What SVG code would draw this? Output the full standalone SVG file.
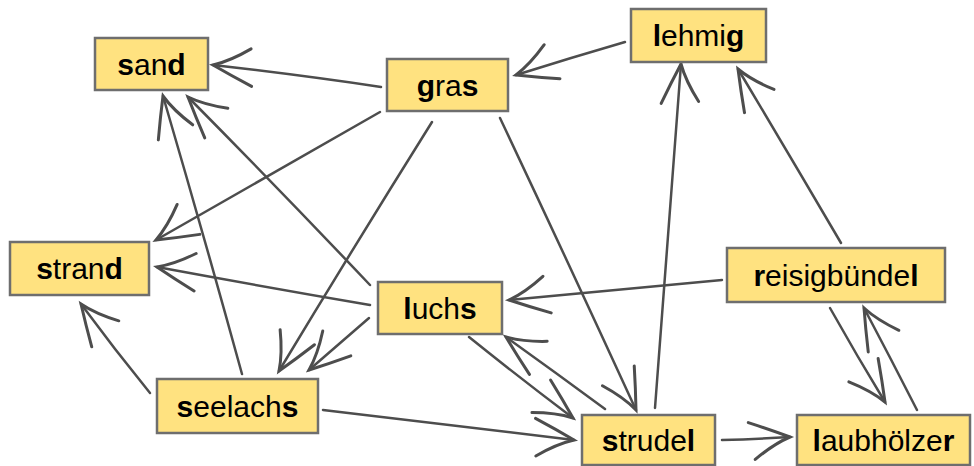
<svg xmlns="http://www.w3.org/2000/svg" width="974" height="466" viewBox="0 0 974 466">
<defs>
<style>
.box{fill:#ffe280;stroke:#6e6e6e;stroke-width:2.5}
.lbl{font-family:"Liberation Sans",Arial,sans-serif;font-size:30px;fill:#000;text-anchor:middle}
.b{font-weight:bold}
.edge{fill:none;stroke:#4d4d4d;stroke-width:2.5;stroke-linecap:round;marker-end:url(#arr)}
</style>
<marker id="arr" markerUnits="userSpaceOnUse" markerWidth="60" markerHeight="60" viewBox="-45 -25 50 50" refX="0" refY="0" orient="auto" overflow="visible">
<path d="M-34,-14 Q-16,-7 0,0 Q-14,5 -30,17" fill="none" stroke="#4d4d4d" stroke-width="2.5" stroke-linecap="round"/>
</marker>
</defs>
<rect width="974" height="466" fill="#fff"/>
<g id="edges">
<path class="edge" d="M381,87 Q300,75 213,65"/>
<path class="edge" d="M625,42 Q570,58 516,75"/>
<path class="edge" d="M380,112 Q270,175 156,240"/>
<path class="edge" d="M432,122 Q355,245 279,371"/>
<path class="edge" d="M500,118 Q568,262 636,410"/>
<path class="edge" d="M370,285 Q280,190 188,97"/>
<path class="edge" d="M242,374 Q204,236 163,96"/>
<path class="edge" d="M370,305 Q265,287 157,267"/>
<path class="edge" d="M369,318 Q340,343 309,370"/>
<path class="edge" d="M150,393 Q115,350 81,304"/>
<path class="edge" d="M469,337 Q520,378 573,418"/>
<path class="edge" d="M605,409 Q555,372 506,337"/>
<path class="edge" d="M323,410 Q450,425 574,440"/>
<path class="edge" d="M655,408 Q668,236 681,64"/>
<path class="edge" d="M722,280 Q615,290 509,300"/>
<path class="edge" d="M841,243 Q790,156 738,69"/>
<path class="edge" d="M830,308 Q857,356 885,402"/>
<path class="edge" d="M917,410 Q891,359 864,308"/>
<path class="edge" d="M722,440 Q756,439 790,437"/>
</g>
<g id="sand"><rect class="box" x="95" y="38" width="113" height="52"/><text class="lbl" x="151.5" y="74.5"><tspan class="b">s</tspan>an<tspan class="b">d</tspan></text></g>
<g id="gras"><rect class="box" x="387" y="59" width="121" height="52"/><text class="lbl" x="447.5" y="95.5"><tspan class="b">g</tspan>ra<tspan class="b">s</tspan></text></g>
<g id="lehmig"><rect class="box" x="631" y="9" width="135" height="53"/><text class="lbl" x="698.5" y="46"><tspan class="b">l</tspan>ehmi<tspan class="b">g</tspan></text></g>
<g id="strand"><rect class="box" x="10" y="242" width="139" height="53"/><text class="lbl" x="79.5" y="279"><tspan class="b">s</tspan>tran<tspan class="b">d</tspan></text></g>
<g id="luchs"><rect class="box" x="378" y="282" width="124" height="52"/><text class="lbl" x="440" y="318.5"><tspan class="b">l</tspan>uch<tspan class="b">s</tspan></text></g>
<g id="reisigbuendel"><rect class="box" x="727" y="248" width="218" height="54"/><text class="lbl" x="836" y="285.5"><tspan class="b">r</tspan>eisigbünde<tspan class="b">l</tspan></text></g>
<g id="seelachs"><rect class="box" x="157" y="379" width="161" height="54"/><text class="lbl" x="237.5" y="416.5"><tspan class="b">s</tspan>eelach<tspan class="b">s</tspan></text></g>
<g id="strudel"><rect class="box" x="582" y="415" width="133" height="50"/><text class="lbl" x="648.5" y="451"><tspan class="b">s</tspan>trude<tspan class="b">l</tspan></text></g>
<g id="laubhoelzer"><rect class="box" x="797" y="415" width="173" height="50"/><text class="lbl" x="883.5" y="451"><tspan class="b">l</tspan>aubhölze<tspan class="b">r</tspan></text></g>
</svg>
